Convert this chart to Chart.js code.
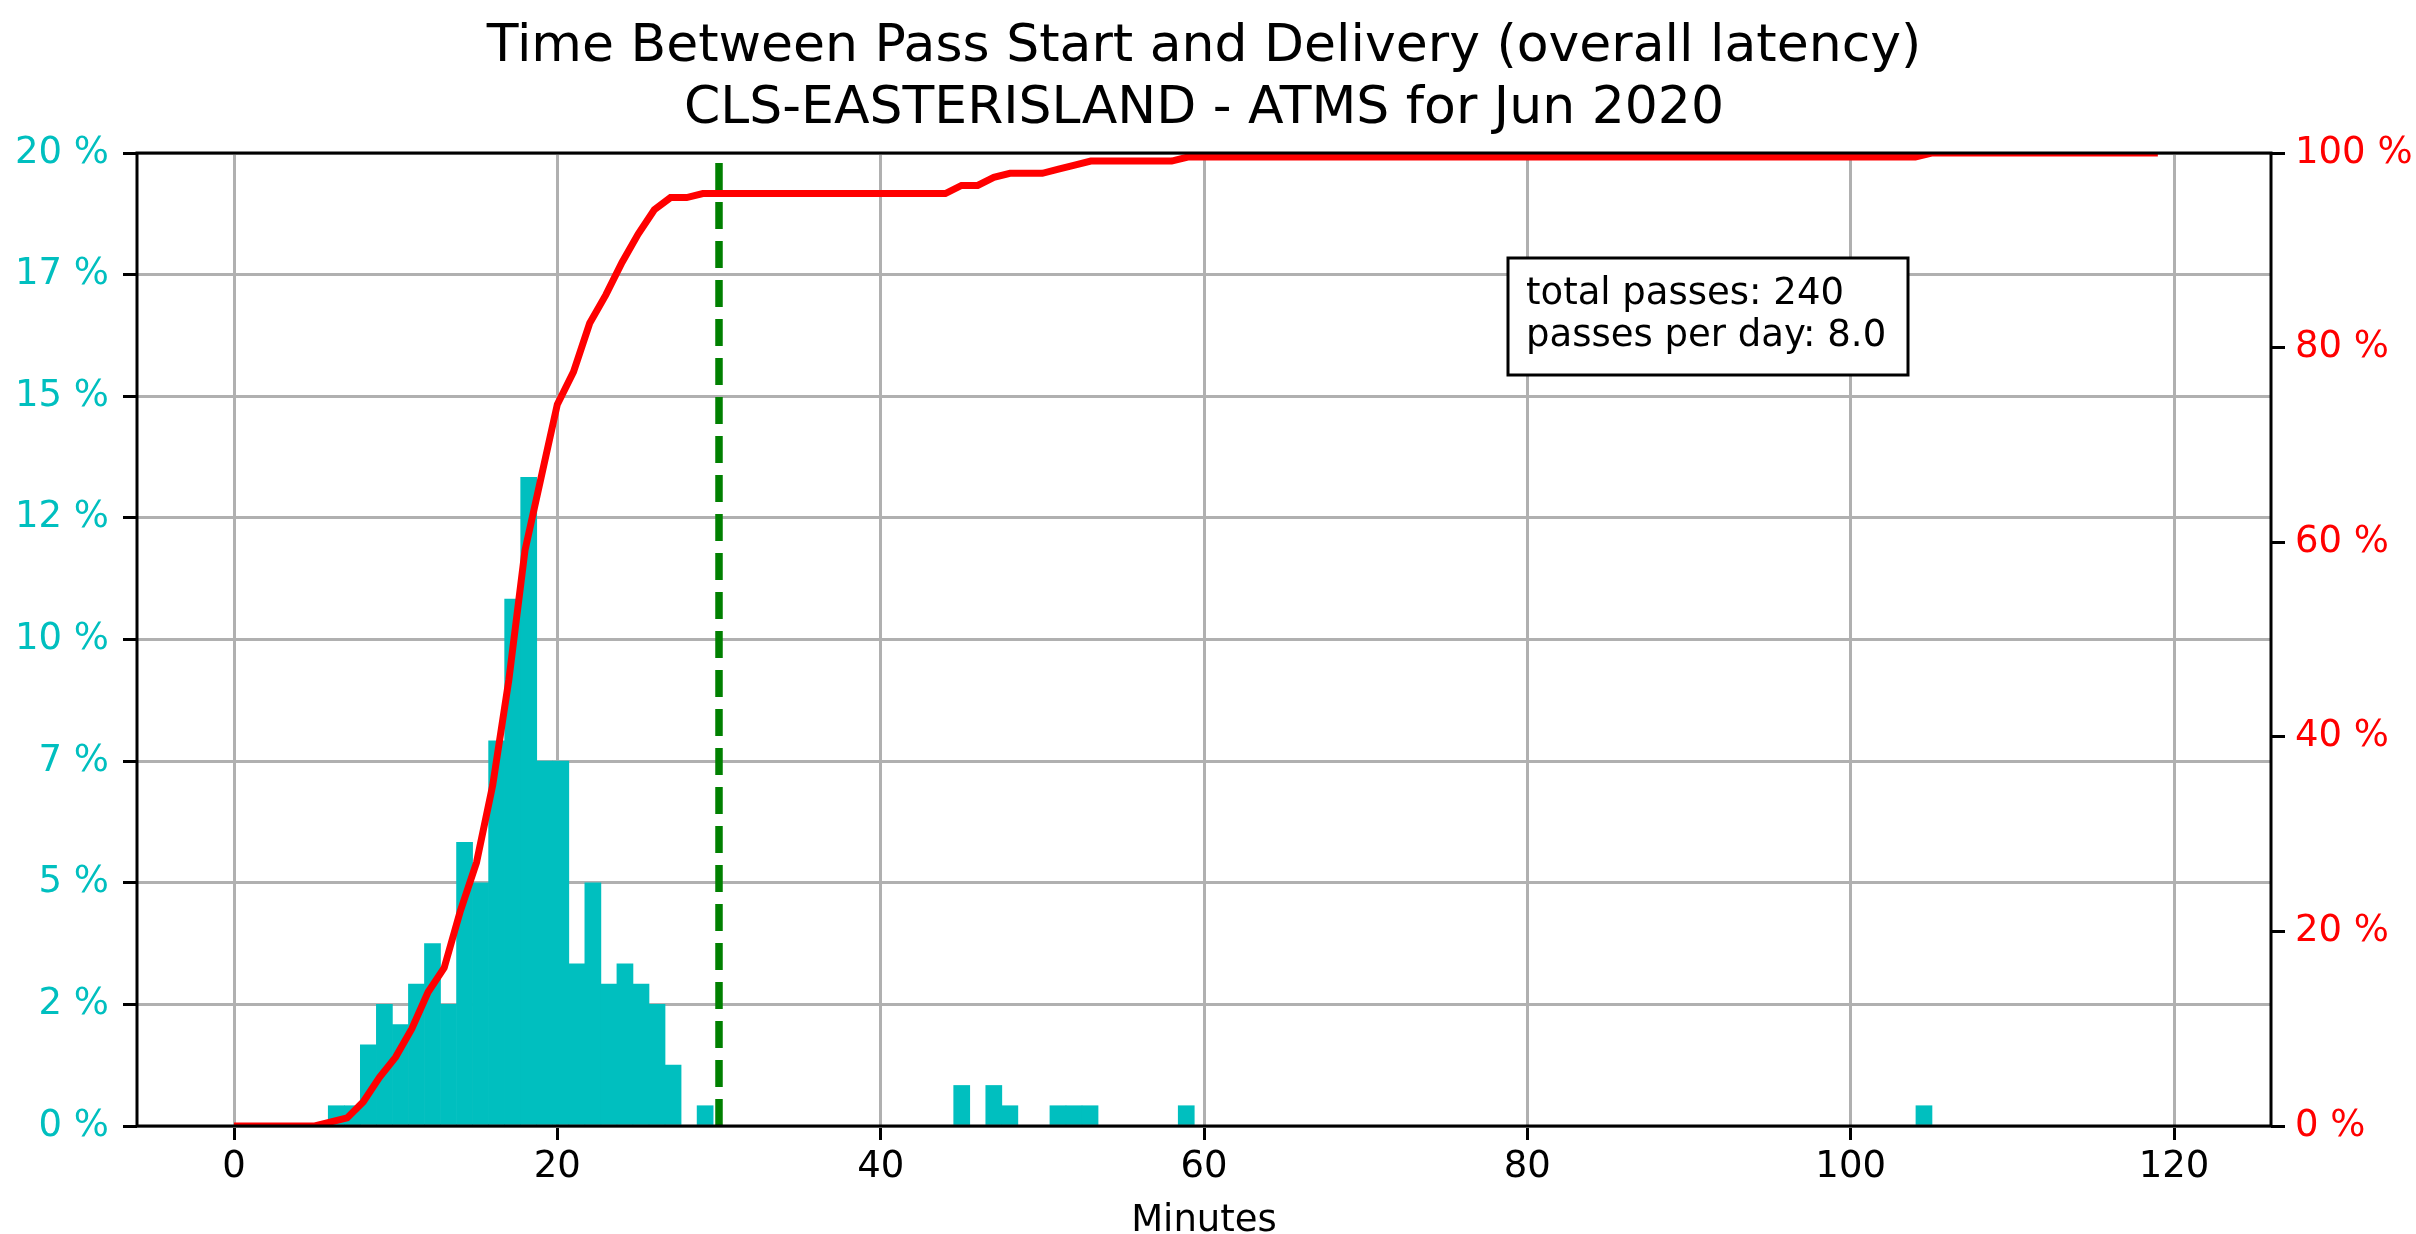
<!DOCTYPE html>
<html>
<head>
<meta charset="utf-8">
<title>Time Between Pass Start and Delivery</title>
<script src="https://cdn.jsdelivr.net/npm/chart.js@4.4.1/dist/chart.umd.min.js"></script>
<style>
  html, body { margin: 0; padding: 0; background: #fff; }
  #chart { display: block; }
</style>
</head>
<body>
<canvas id="chart" width="2416" height="1234"></canvas>
<script>
const titleLines = ['Time Between Pass Start and Delivery (overall latency)', 'CLS-EASTERISLAND - ATMS for Jun 2020'];
const xLabel = 'Minutes';
const totalPasses = 240;
const passesPerDay = 8.0;
const thresholdMinutes = 30;

// histogram, 100 bins from the fastest pass to the slowest
const binStart = 5.83;
const binWidth = 0.992;
const binCounts = [
  1, 1, 4, 6, 5, 7, 9, 6, 14, 12,
  19, 26, 32, 18, 18, 8, 12, 7, 8, 7,
  6, 3, 0, 1, 0, 0, 0, 0, 0, 0,
  0, 0, 0, 0, 0, 0, 0, 0, 0, 2,
  0, 2, 1, 0, 0, 1, 1, 1, 0, 0,
  0, 0, 0, 1, 0, 0, 0, 0, 0, 0,
  0, 0, 0, 0, 0, 0, 0, 0, 0, 0,
  0, 0, 0, 0, 0, 0, 0, 0, 0, 0,
  0, 0, 0, 0, 0, 0, 0, 0, 0, 0,
  0, 0, 0, 0, 0, 0, 0, 0, 0, 1
];

// passes delivered by minute 0, 1, 2 ... 119
const cdfCounts = [
  0, 0, 0, 0, 0, 0, 1, 2, 6, 12,
  17, 24, 33, 39, 53, 65, 84, 110, 142, 160,
  178, 186, 198, 205, 213, 220, 226, 229, 229, 230,
  230, 230, 230, 230, 230, 230, 230, 230, 230, 230,
  230, 230, 230, 230, 230, 232, 232, 234, 235, 235,
  235, 236, 237, 238, 238, 238, 238, 238, 238, 239,
  239, 239, 239, 239, 239, 239, 239, 239, 239, 239,
  239, 239, 239, 239, 239, 239, 239, 239, 239, 239,
  239, 239, 239, 239, 239, 239, 239, 239, 239, 239,
  239, 239, 239, 239, 239, 239, 239, 239, 239, 239,
  239, 239, 239, 239, 239, 240, 240, 240, 240, 240,
  240, 240, 240, 240, 240, 240, 240, 240, 240, 240
];

const CYAN = '#00bfbf';
const RED = '#ff0000';
const GRID = '#b0b0b0';
const FONT = 'DejaVu Sans';

Chart.defaults.font.family = FONT;
Chart.defaults.font.size = 37;

const histData = binCounts.map((c, i) => ({ x: binStart + (i + 0.5) * binWidth, y: c / totalPasses * 100 }));
const cdfData = cdfCounts.map((c, i) => ({ x: i, y: c / totalPasses * 100 }));

const tickGrid = { color: GRID, lineWidth: 3, tickColor: '#000', tickLength: 14, tickWidth: 3 };

const decorations = {
    id: 'decorations',
    afterDatasetsDraw(chart) {
        const { ctx, chartArea: a } = chart;
        ctx.save();
        ctx.strokeStyle = '#000';
        ctx.lineWidth = 3;
        ctx.strokeRect(a.left, a.top, a.right - a.left, a.bottom - a.top);
        ctx.restore();
    },
    afterDraw(chart) {
        const { ctx, chartArea: a } = chart;
        const cx = (a.left + a.right) / 2;
        ctx.save();
        ctx.fillStyle = '#000';
        ctx.textAlign = 'center';
        ctx.textBaseline = 'alphabetic';
        ctx.font = `52px "${FONT}"`;
        ctx.fillText(titleLines[0], cx, 61);
        ctx.fillText(titleLines[1], cx, 123);

        ctx.font = `37px "${FONT}"`;
        ctx.fillText(xLabel, cx, 1231);

        // info box
        ctx.fillStyle = '#fff';
        ctx.fillRect(1508, 258, 400, 117);
        ctx.strokeStyle = '#000';
        ctx.lineWidth = 3;
        ctx.strokeRect(1508, 258, 400, 117);
        ctx.fillStyle = '#000';
        ctx.textAlign = 'left';
        ctx.fillText(`total passes: ${totalPasses}`, 1526, 304);
        ctx.fillText(`passes per day: ${passesPerDay.toFixed(1)}`, 1526, 346);
        ctx.restore();
    }
};

new Chart(document.getElementById('chart'), {
    type: 'bar',
    data: {
        datasets: [
            {
                type: 'line',
                data: cdfData,
                yAxisID: 'y2',
                borderColor: RED,
                borderWidth: 7,
                pointRadius: 0,
                tension: 0,
                clip: 0,
                order: 0
            },
            {
                type: 'line',
                data: [{ x: thresholdMinutes, y: 0 }, { x: thresholdMinutes, y: 20 }],
                yAxisID: 'y',
                borderColor: '#008000',
                borderWidth: 7.5,
                borderDash: [27, 12],
                pointRadius: 0,
                clip: 0,
                order: 1
            },
            {
                type: 'bar',
                data: histData,
                yAxisID: 'y',
                backgroundColor: CYAN,
                borderWidth: 0,
                categoryPercentage: 1,
                barPercentage: 1,
                clip: 0,
                order: 2
            }
        ]
    },
    options: {
        responsive: false,
        devicePixelRatio: 1,
        animation: false,
        events: [],
        layout: { padding: { top: 153, left: 0, right: 0, bottom: 0 } },
        plugins: { legend: { display: false }, tooltip: { enabled: false }, title: { display: false } },
        scales: {
            x: {
                type: 'linear',
                min: -6,
                max: 126,
                offset: false,
                afterFit: s => { s.height = 108; },
                grid: { ...tickGrid, offset: false },
                border: { display: false },
                ticks: { stepSize: 20, includeBounds: false, color: '#000', padding: 5, maxRotation: 0, autoSkip: false }
            },
            y: {
                position: 'left',
                min: 0,
                max: 20,
                afterFit: s => { s.width = 137; },
                grid: tickGrid,
                border: { display: false },
                ticks: { stepSize: 2.5, color: CYAN, padding: 14, callback: v => Math.floor(v) + ' %' }
            },
            y2: {
                position: 'right',
                min: 0,
                max: 100,
                afterFit: s => { s.width = 145; },
                grid: { ...tickGrid, drawOnChartArea: false },
                border: { display: false },
                ticks: { stepSize: 20, color: RED, padding: 10, callback: v => v + ' %' }
            }
        }
    },
    plugins: [decorations]
});
</script>
</body>
</html>
